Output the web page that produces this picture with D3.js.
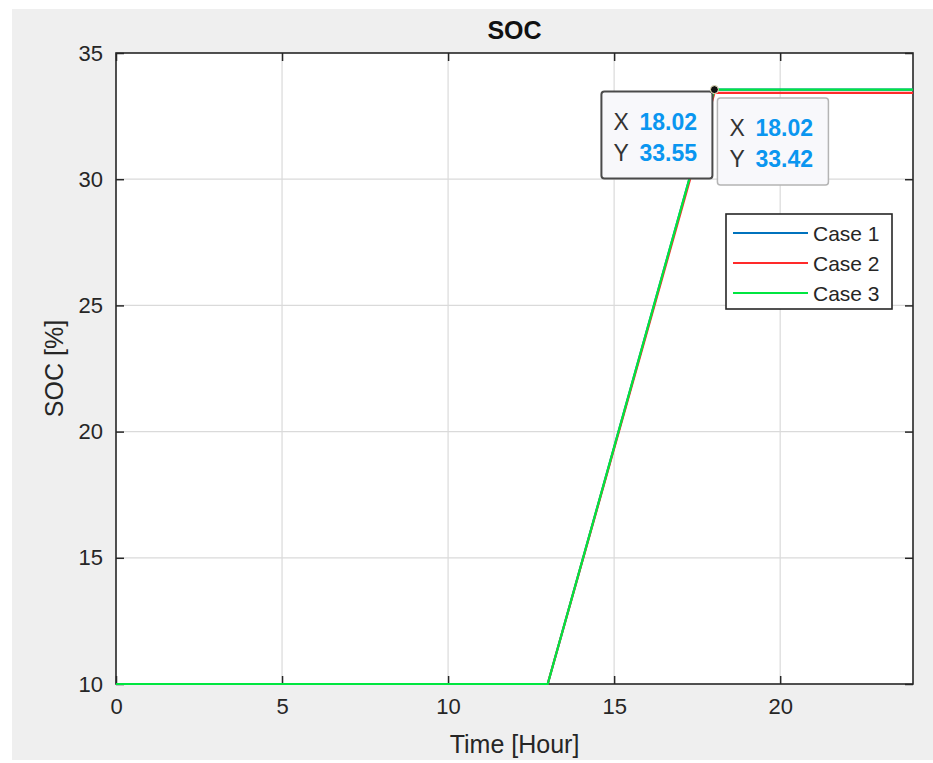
<!DOCTYPE html>
<html lang="en">
  <head>
    <meta charset="utf-8">
    <title>SOC</title>
    <script type="text/javascript" src="https://cdn.jsdelivr.net/npm/d3@7"></script>
    <style>
    body { margin: 0; background: #ffffff; }
    text { font-family: "Liberation Sans", Arial, sans-serif; }
    </style>
  </head>
  <body>
    <script type="text/javascript">
      // data
      var time_hours = [0, 13, 18.02, 24];
      var case1_soc = [10, 10, 33.55, 33.55];
      var case2_soc = [10, 10, 33.42, 33.42];
      var case3_soc = [10, 10, 33.55, 33.55];
      var series_names = ["Case 1", "Case 2", "Case 3"];
      var series_colors = ["#0072bd", "#ff2a2a", "#00e640"];
      var x_ticks = [0, 5, 10, 15, 20];
      var y_ticks = [10, 15, 20, 25, 30, 35];
      // data tips: [x, y] shown on the plot
      var tips = [[18.02, 33.55], [18.02, 33.42]];

      var w = 933;
      var h = 763;
      var plot_l = 116, plot_r = 913, plot_t = 53, plot_b = 684;

      var svg = d3.select("body")
                  .append("svg")
                  .attr("width", w)
                  .attr("height", h);

      // figure background
      svg.append("rect")
         .attr("x", 12).attr("y", 9)
         .attr("width", w - 12).attr("height", 751)
         .attr("fill", "#efefef");

      svg.append("rect")
         .attr("x", plot_l).attr("y", plot_t)
         .attr("width", plot_r - plot_l).attr("height", plot_b - plot_t)
         .attr("fill", "white");

      var x = d3.scaleLinear().domain([0, 24]).range([plot_l, plot_r]);
      var y = d3.scaleLinear().domain([10, 35]).range([plot_b, plot_t]);

      // grid
      svg.append("g")
         .selectAll("line")
         .data(x_ticks.slice(1))
         .enter()
         .append("line")
         .attr("x1", function(d){ return x(d); })
         .attr("x2", function(d){ return x(d); })
         .attr("y1", plot_t).attr("y2", plot_b)
         .attr("stroke", "#dadada")
         .attr("stroke-width", 1.2);
      svg.append("g")
         .selectAll("line")
         .data(y_ticks.slice(1, -1))
         .enter()
         .append("line")
         .attr("y1", function(d){ return y(d); })
         .attr("y2", function(d){ return y(d); })
         .attr("x1", plot_l).attr("x2", plot_r)
         .attr("stroke", "#dadada")
         .attr("stroke-width", 1.2);

      // axes with inward ticks on all four sides
      var axis_color = "#262626";
      var tick_font = 22;
      function styleAxis(g) {
        g.select(".domain").remove();
        g.selectAll(".tick line").attr("stroke", axis_color).attr("stroke-width", 1.5);
        g.selectAll(".tick text").attr("fill", axis_color)
         .attr("font-size", tick_font + "px")
         .attr("font-family", "'Liberation Sans', Arial, sans-serif");
      }
      svg.append("g")
         .attr("transform", "translate(0," + plot_b + ")")
         .call(d3.axisBottom(x).tickValues(x_ticks).tickSize(-8).tickPadding(14))
         .call(styleAxis);
      svg.append("g")
         .attr("transform", "translate(0," + plot_t + ")")
         .call(d3.axisTop(x).tickValues(x_ticks).tickSize(-8).tickFormat(""))
         .call(styleAxis);
      svg.append("g")
         .attr("transform", "translate(" + plot_l + ",0)")
         .call(d3.axisLeft(y).tickValues(y_ticks).tickSize(-8).tickPadding(13))
         .call(styleAxis);
      svg.append("g")
         .attr("transform", "translate(" + plot_r + ",0)")
         .call(d3.axisRight(y).tickValues(y_ticks).tickSize(-8).tickFormat(""))
         .call(styleAxis);

      svg.append("rect")
         .attr("x", plot_l).attr("y", plot_t)
         .attr("width", plot_r - plot_l).attr("height", plot_b - plot_t)
         .attr("fill", "none")
         .attr("stroke", axis_color)
         .attr("stroke-width", 1.6);

      // lines (drawn over the axes box, as in the figure)
      var all_series = [case1_soc, case2_soc, case3_soc];
      var line = d3.line()
                   .x(function(d){ return x(d[0]); })
                   .y(function(d){ return y(d[1]); });
      svg.append("g")
         .selectAll("path")
         .data(all_series)
         .enter()
         .append("path")
         .attr("d", function(vals){
           return line(time_hours.map(function(t, i){ return [t, vals[i]]; }));
         })
         .attr("fill", "none")
         .attr("stroke", function(d, i){ return series_colors[i]; })
         .attr("stroke-width", 2.2);

      // title and labels
      svg.append("text")
         .text("SOC")
         .attr("x", (plot_l + plot_r) / 2)
         .attr("y", 39)
         .attr("text-anchor", "middle")
         .attr("font-size", "25px")
         .attr("font-weight", "bold")
         .attr("fill", "#111");
      svg.append("text")
         .text("Time [Hour]")
         .attr("x", (plot_l + plot_r) / 2)
         .attr("y", 753)
         .attr("text-anchor", "middle")
         .attr("font-size", "25px")
         .attr("fill", axis_color);
      svg.append("text")
         .text("SOC [%]")
         .attr("transform", "translate(63," + ((plot_t + plot_b) / 2) + ") rotate(-90)")
         .attr("text-anchor", "middle")
         .attr("font-size", "25px")
         .attr("fill", axis_color);

      // legend
      var legend = svg.append("g");
      legend.append("rect")
            .attr("x", 726).attr("y", 214)
            .attr("width", 166).attr("height", 95)
            .attr("fill", "white")
            .attr("stroke", axis_color)
            .attr("stroke-width", 1.6);
      var rows = legend.selectAll("g")
                       .data(series_names)
                       .enter()
                       .append("g")
                       .attr("transform", function(d, i){
                         return "translate(0," + (233 + i * 30) + ")";
                       });
      rows.append("line")
          .attr("x1", 733).attr("x2", 808)
          .attr("y1", 0).attr("y2", 0)
          .attr("stroke", function(d, i){ return series_colors[i]; })
          .attr("stroke-width", 2);
      rows.append("text")
          .text(function(d){ return d; })
          .attr("x", 813)
          .attr("y", 8)
          .attr("font-size", "21px")
          .attr("fill", axis_color);

      // data tips
      var tip_boxes = [
        {dx: -113, dy: 2, stroke: "#4a4a4a", sw: 2},
        {dx: 3, dy: 5, stroke: "#b4b4b4", sw: 1.5}
      ];
      tips.forEach(function(tp, i){
        var px = x(tp[0]), py = y(tp[1]);
        var b = tip_boxes[i];
        var g = svg.append("g").attr("transform", "translate(" + (px + b.dx) + "," + (py + b.dy) + ")");
        g.append("rect")
         .attr("width", 111).attr("height", 87)
         .attr("rx", 3)
         .attr("fill", "#f8f8fb")
         .attr("stroke", b.stroke)
         .attr("stroke-width", b.sw);
        var tip_rows = [["X", tp[0].toFixed(2)], ["Y", tp[1].toFixed(2)]];
        tip_rows.forEach(function(l, j){
          g.append("text")
           .text(l[0])
           .attr("x", 12).attr("y", 38 + j * 31)
           .attr("font-size", "23px")
           .attr("fill", "#333");
          g.append("text")
           .text(l[1])
           .attr("x", 38).attr("y", 38 + j * 31)
           .attr("font-size", "23px")
           .attr("font-weight", "bold")
           .attr("fill", "#0a96f0");
        });
      });
      svg.append("circle")
         .attr("cx", x(tips[0][0]))
         .attr("cy", y(tips[0][1]))
         .attr("r", 4)
         .attr("fill", "#111")
         .attr("stroke", "#f5efc8")
         .attr("stroke-width", 1);
    </script>
  </body>
</html>
